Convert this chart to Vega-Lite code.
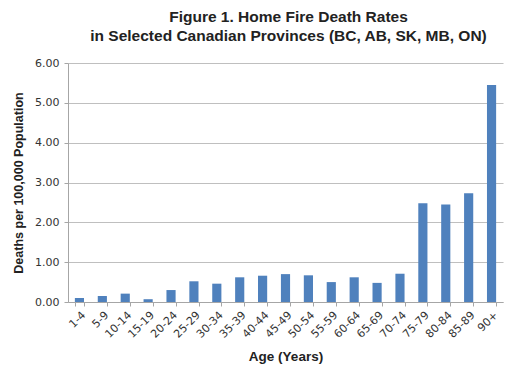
{
  "$schema": "https://vega.github.io/schema/vega-lite/v6.json",
  "width": 435,
  "height": 239,
  "autosize": {"type": "none"},
  "padding": {"left": 68, "top": 63, "right": 12, "bottom": 67},
  "background": "white",
  "title": {
    "text": ["Figure 1. Home Fire Death Rates", "in Selected Canadian Provinces (BC, AB, SK, MB, ON)"],
    "font": "Liberation Sans",
    "fontSize": 15.5,
    "fontWeight": "bold",
    "color": "#222222",
    "lineHeight": 19,
    "anchor": "middle",
    "frame": "group",
    "offset": 13,
    "dx": 3
  },
  "data": {
    "values": [
      {"age": "1-4", "rate": 0.10},
      {"age": "5-9", "rate": 0.15},
      {"age": "10-14", "rate": 0.21},
      {"age": "15-19", "rate": 0.07},
      {"age": "20-24", "rate": 0.30},
      {"age": "25-29", "rate": 0.52},
      {"age": "30-34", "rate": 0.46},
      {"age": "35-39", "rate": 0.62},
      {"age": "40-44", "rate": 0.66},
      {"age": "45-49", "rate": 0.70},
      {"age": "50-54", "rate": 0.67},
      {"age": "55-59", "rate": 0.50},
      {"age": "60-64", "rate": 0.62},
      {"age": "65-69", "rate": 0.48},
      {"age": "70-74", "rate": 0.71},
      {"age": "75-79", "rate": 2.48},
      {"age": "80-84", "rate": 2.45},
      {"age": "85-89", "rate": 2.73},
      {"age": "90+", "rate": 5.45}
    ]
  },
  "mark": {"type": "bar", "color": "#4F81BD"},
  "encoding": {
    "x": {
      "field": "age",
      "type": "nominal",
      "sort": null,
      "scale": {"paddingInner": 0.6, "paddingOuter": 0.3},
      "axis": {
        "title": "Age (Years)",
        "titleFont": "Liberation Sans",
        "titleFontSize": 13.5,
        "titleFontWeight": "bold",
        "titleColor": "#222222",
        "titlePadding": 10,
        "labelAngle": -45,
        "labelFont": "DejaVu Sans",
        "labelFontSize": 11,
        "labelColor": "#333333",
        "labelPadding": 3,
        "tickBand": "extent",
        "tickColor": "#a6a6a6",
        "tickSize": 4,
        "domainColor": "#a6a6a6",
        "grid": false
      }
    },
    "y": {
      "field": "rate",
      "type": "quantitative",
      "scale": {"domain": [0, 6], "nice": false},
      "axis": {
        "title": "Deaths per 100,000 Population",
        "titleFont": "Liberation Sans",
        "titleFontSize": 12.5,
        "titleFontWeight": "bold",
        "titleColor": "#222222",
        "titlePadding": 9,
        "values": [0, 1, 2, 3, 4, 5, 6],
        "format": ".2f",
        "labelFont": "DejaVu Sans",
        "labelFontSize": 11,
        "labelColor": "#333333",
        "labelPadding": 5,
        "tickColor": "#a6a6a6",
        "tickSize": 4,
        "domainColor": "#a6a6a6",
        "gridColor": "#bfbfbf"
      }
    }
  },
  "config": {"view": {"stroke": null}}
}
